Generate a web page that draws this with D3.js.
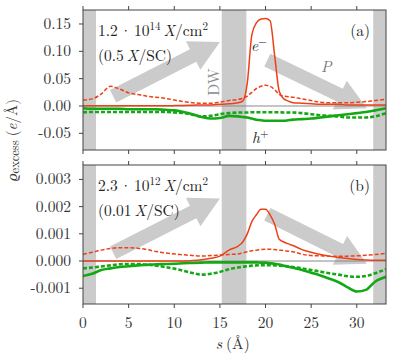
<!DOCTYPE html>
<html>
<head>
<meta charset="utf-8">
<script src="https://cdn.jsdelivr.net/npm/d3@7.9.0/dist/d3.min.js"></script>
<style>
  body { margin: 0; background: #fff; }
</style>
</head>
<body>
<svg id="chart" width="395" height="356" font-family="Latin Modern Roman, Liberation Serif, serif"></svg>
<script>
// s grid (Å), shared by every series
const sGrid = [0, 1, 2, 3, 4, 5, 6, 7, 8, 9, 10, 11, 12, 13, 14, 15, 16, 17, 17.5, 18, 18.5, 19, 19.5, 20,
  20.5, 21, 21.5, 22, 22.5, 23, 24, 25, 26, 27, 28, 29, 30, 31, 32, 33.2];

// panel (a): 1.2e14 X/cm^2
const redSolidA = [0.0005, 0.0005, 0.0005, 0.0005, 0.0005, 0.0005, 0.0005, 0.0005, 0.0005, 0.0005, 0.0007, 0.001,
  0.0015, 0.002, 0.002, 0.003, 0.004, 0.006, 0.009, 0.042, 0.13, 0.152, 0.159, 0.16, 0.156, 0.092, 0.027, 0.013,
  0.009, 0.006, 0.005, 0.004, 0.003, 0.003, 0.003, 0.002, 0.002, 0.002, 0.002, 0.002];
const redDashA = [0.011, 0.013, 0.022, 0.036, 0.031, 0.024, 0.021, 0.018, 0.016, 0.014, 0.011, 0.008, 0.006, 0.005,
  0.005, 0.007, 0.010, 0.012, 0.014, 0.018, 0.025, 0.032, 0.036, 0.038, 0.036, 0.030, 0.021, 0.018, 0.017, 0.016,
  0.013, 0.010, 0.007, 0.006, 0.006, 0.006, 0.007, 0.008, 0.010, 0.012];
const greenSolidA = [-0.004, -0.005, -0.005, -0.005, -0.005, -0.006, -0.006, -0.006, -0.006, -0.007, -0.008, -0.011,
  -0.015, -0.020, -0.023, -0.022, -0.018, -0.019, -0.020, -0.021, -0.023, -0.025, -0.026, -0.027, -0.027, -0.027,
  -0.027, -0.027, -0.026, -0.025, -0.024, -0.023, -0.021, -0.019, -0.017, -0.015, -0.013, -0.011, -0.008, -0.004];
const greenDashA = [-0.0115, -0.011, -0.011, -0.011, -0.011, -0.011, -0.011, -0.011, -0.011, -0.011, -0.012, -0.013,
  -0.016, -0.019, -0.018, -0.015, -0.013, -0.012, -0.012, -0.012, -0.0115, -0.0115, -0.0115, -0.0115, -0.0115,
  -0.0115, -0.0115, -0.012, -0.012, -0.012, -0.013, -0.015, -0.017, -0.018, -0.019, -0.021, -0.021, -0.021, -0.019, -0.013];

// panel (b): 2.3e12 X/cm^2
const redSolidB = [0, 0, 0, 0, 0, 0, 0, 0, 0, 0, 0, 0, 0.00002, 0.00005, 0.0001, 0.00018, 0.0004, 0.00055, 0.0007,
  0.001, 0.00145, 0.0017, 0.0019, 0.0019, 0.0017, 0.00135, 0.0008, 0.0007, 0.00063, 0.00057, 0.00042, 0.00032,
  0.00024, 0.00018, 0.00013, 0.00009, 0.00006, 0.00004, 0.00003, 0.00003];
const redDashB = [0.00025, 0.00032, 0.0004, 0.00046, 0.00049, 0.00049, 0.00047, 0.00042, 0.00035, 0.0003, 0.00026,
  0.00023, 0.0002, 0.00018, 0.0002, 0.00022, 0.00024, 0.00026, 0.0003, 0.00034, 0.00038, 0.0004, 0.00042, 0.00043,
  0.00043, 0.00042, 0.0004, 0.00038, 0.00036, 0.00034, 0.00025, 0.0002, 0.00019, 0.00018, 0.00018, 0.00018,
  0.00019, 0.00021, 0.00024, 0.00028];
const greenSolidB = [-0.00055, -0.00047, -0.00033, -0.00027, -0.00022, -0.00019, -0.00016, -0.00014, -0.00012,
  -0.00011, -0.0001, -0.00008, -0.00007, -0.00006, -0.00005, -0.00005, -0.00005, -0.00005, -0.00005, -0.00005,
  -0.00005, -0.00005, -0.00006, -0.00006, -0.00008, -0.0001, -0.00013, -0.00017, -0.00021, -0.00025, -0.00033,
  -0.00043, -0.00053, -0.00065, -0.00078, -0.00097, -0.00112, -0.00106, -0.00076, -0.00058];
const greenDashB = [-0.00027, -0.00024, -0.0002, -0.00016, -0.00012, -0.00011, -0.00011, -0.00013, -0.00017,
  -0.00022, -0.00028, -0.00036, -0.00044, -0.0005, -0.00047, -0.0004, -0.0003, -0.00024, -0.00021, -0.00019,
  -0.00017, -0.00016, -0.00015, -0.00015, -0.00015, -0.00016, -0.00017, -0.00018, -0.0002, -0.00022, -0.00027,
  -0.00033, -0.00039, -0.00045, -0.0005, -0.00056, -0.00058, -0.00055, -0.00045, -0.0003];

// gray bands (domain walls / boundaries), in Å
const bands = [[0, 1.42], [15.2, 17.9], [31.8, 33.2]];

// big polarisation arrows [s0, v0, s1, v1]
const arrowsA = [[3.3, 0.018, 15.0, 0.117], [20.2, 0.084, 31.1, -0.004]];
const arrowsB = [[3.3, 0.0003, 15.0, 0.0023], [20.2, 0.00172, 31.1, -0.0001]];

const xTicks = [0, 5, 10, 15, 20, 25, 30];
const yTicksA = [-0.05, 0, 0.05, 0.10, 0.15];
const yTicksB = [-0.001, 0, 0.001, 0.002, 0.003];

const RED = '#ee4018', GREEN = '#14a814', BAND = '#cbcbcb', FRAME = '#444';

const svg = d3.select('#chart');
const x = d3.scaleLinear().domain([0, 33.2]).range([83, 386]);

const panels = [
  { id: 'a', top: 10, bottom: 150, domain: [-0.0805, 0.1756], ticks: yTicksA, fmt: 2,
    series: [redDashA, redSolidA, greenDashA, greenSolidA], arrows: arrowsA,
    mant: '1.2', exp: '14', ratio: '0.5' },
  { id: 'b', top: 165, bottom: 304, domain: [-0.00158, 0.00353], ticks: yTicksB, fmt: 3,
    series: [redDashB, redSolidB, greenDashB, greenSolidB], arrows: arrowsB,
    mant: '2.3', exp: '12', ratio: '0.01' }
];

const styles = [
  { color: RED, width: 1.5, dash: '4,2' },
  { color: RED, width: 1.5, dash: null },
  { color: GREEN, width: 2.6, dash: '4,2' },
  { color: GREEN, width: 2.6, dash: null }
];

function arrowPath(x0, y0, x1, y1) {
  const dx = x1 - x0, dy = y1 - y0, len = Math.hypot(dx, dy);
  const ux = dx / len, uy = dy / len, px = -uy, py = ux;
  const sw = 7, hw = 16, hl = 30;
  const bx = x1 - ux * hl, by = y1 - uy * hl;
  const pts = [
    [x0 + px * sw, y0 + py * sw], [bx + px * sw, by + py * sw], [bx + px * hw, by + py * hw], [x1, y1],
    [bx - px * hw, by - py * hw], [bx - px * sw, by - py * sw], [x0 - px * sw, y0 - py * sw]
  ];
  return 'M' + pts.map(p => p.join(',')).join('L') + 'Z';
}

panels.forEach(p => {
  const y = d3.scaleLinear().domain(p.domain).range([p.bottom, p.top]);
  const g = svg.append('g');

  g.append('clipPath').attr('id', 'clip-' + p.id)
    .append('rect').attr('x', x(0)).attr('y', p.top)
    .attr('width', x(33.2) - x(0)).attr('height', p.bottom - p.top);

  const inner = g.append('g').attr('clip-path', `url(#clip-${p.id})`);

  // bands
  inner.selectAll('rect.band').data(bands).join('rect')
    .attr('class', 'band')
    .attr('x', d => x(d[0])).attr('width', d => x(d[1]) - x(d[0]))
    .attr('y', p.top).attr('height', p.bottom - p.top)
    .attr('fill', BAND);

  // arrows
  inner.selectAll('path.arrow').data(p.arrows).join('path')
    .attr('class', 'arrow')
    .attr('d', d => arrowPath(x(d[0]), y(d[1]), x(d[2]), y(d[3])))
    .attr('fill', BAND);

  // zero line
  inner.append('line')
    .attr('x1', x(0)).attr('x2', x(33.2))
    .attr('y1', y(0)).attr('y2', y(0))
    .attr('stroke', '#8a8a8a').attr('stroke-width', 1);

  const line = d3.line()
    .x((d, i) => x(sGrid[i]))
    .y(d => y(d))
    .curve(d3.curveMonotoneX);

  p.series.forEach((vals, i) => {
    const st = styles[i];
    inner.append('path')
      .attr('d', line(vals))
      .attr('fill', 'none')
      .attr('stroke', st.color)
      .attr('stroke-width', st.width)
      .attr('stroke-dasharray', st.dash);
  });

  // frame
  g.append('rect')
    .attr('x', x(0)).attr('y', p.top)
    .attr('width', x(33.2) - x(0)).attr('height', p.bottom - p.top)
    .attr('fill', 'none').attr('stroke', FRAME).attr('stroke-width', 1);

  // y ticks
  const fmt = v => (v < 0 ? '-' : '') + Math.abs(v).toFixed(p.fmt);
  const yt = g.selectAll('g.yt').data(p.ticks).join('g').attr('class', 'yt');
  yt.append('line')
    .attr('x1', x(0) - 4).attr('x2', x(0))
    .attr('y1', d => y(d)).attr('y2', d => y(d))
    .attr('stroke', FRAME);
  yt.append('text')
    .attr('x', x(0) - 12).attr('y', d => y(d) + 5)
    .attr('text-anchor', 'end')
    .attr('font-size', 15.5).attr('fill', '#333')
    .text(fmt);

  // x ticks, top and bottom, outward
  g.selectAll('line.xt').data(xTicks).join('line').attr('class', 'xt')
    .attr('x1', d => x(d)).attr('x2', d => x(d))
    .attr('y1', p.top - 4).attr('y2', p.top)
    .attr('stroke', FRAME);
  g.selectAll('line.xb').data(xTicks).join('line').attr('class', 'xb')
    .attr('x1', d => x(d)).attr('x2', d => x(d))
    .attr('y1', p.bottom).attr('y2', p.bottom + 4)
    .attr('stroke', FRAME);

  // concentration labels
  const t1 = g.append('text').attr('x', 98).attr('y', p.top + 26)
    .attr('font-size', 15.5).attr('fill', '#222');
  t1.append('tspan').text(p.mant);
  t1.append('tspan').attr('dx', 2).text('·');
  t1.append('tspan').attr('dx', 2).text('10');
  t1.append('tspan').attr('font-size', 11).attr('dy', -6).text(p.exp);
  t1.append('tspan').attr('dy', 6).attr('dx', 3).attr('font-style', 'italic').text('X');
  t1.append('tspan').text('/cm');
  t1.append('tspan').attr('font-size', 11).attr('dy', -6).text('2');

  const t2 = g.append('text').attr('x', 98).attr('y', p.top + 51)
    .attr('font-size', 15.5).attr('fill', '#222');
  t2.append('tspan').text(`(${p.ratio}`);
  t2.append('tspan').attr('dx', 3).attr('font-style', 'italic').text('X');
  t2.append('tspan').text('/SC)');

  g.append('text').attr('x', 370).attr('y', p.top + 26)
    .attr('text-anchor', 'end').attr('font-size', 15.5).attr('fill', '#222')
    .text(`(${p.id})`);
});

// bottom axis labels
svg.selectAll('text.xl').data(xTicks).join('text').attr('class', 'xl')
  .attr('x', d => x(d)).attr('y', 328)
  .attr('text-anchor', 'middle').attr('font-size', 15.5).attr('fill', '#333')
  .text(d => d);

const xl = svg.append('text').attr('x', x(16.4)).attr('y', 349)
  .attr('text-anchor', 'middle').attr('font-size', 15.5).attr('fill', '#333');
xl.append('tspan').attr('font-style', 'italic').text('s');
xl.append('tspan').attr('dx', 4).text('(Å)');

const yl = svg.append('text')
  .attr('transform', 'translate(17,140) rotate(-90)')
  .attr('text-anchor', 'middle').attr('font-size', 15).attr('fill', '#333');
yl.append('tspan').attr('font-style', 'italic').text('ϱ');
yl.append('tspan').attr('font-size', 12.5).attr('dy', 2).text('excess');
yl.append('tspan').attr('dy', -2).attr('dx', 4).text('(');
yl.append('tspan').attr('font-style', 'italic').text('e');
yl.append('tspan').text('/Å)');

// annotations in panel (a)
svg.append('text')
  .attr('transform', 'translate(219,82) rotate(-90)')
  .attr('text-anchor', 'middle').attr('font-size', 15.5).attr('fill', '#8c8c8c')
  .text('DW');

const em = svg.append('text').attr('x', 251).attr('y', 51).attr('font-size', 15.5).attr('fill', '#222');
em.append('tspan').attr('font-style', 'italic').text('e');
em.append('tspan').attr('font-size', 11).attr('dy', -6).text('−');

const hp = svg.append('text').attr('x', 252).attr('y', 143).attr('font-size', 15.5).attr('fill', '#222');
hp.append('tspan').attr('font-style', 'italic').text('h');
hp.append('tspan').attr('font-size', 11).attr('dy', -6).text('+');

svg.append('text').attr('x', 321).attr('y', 72)
  .attr('font-size', 15.5).attr('font-style', 'italic').attr('fill', '#7a7a7a')
  .text('P');
</script>
</body>
</html>
